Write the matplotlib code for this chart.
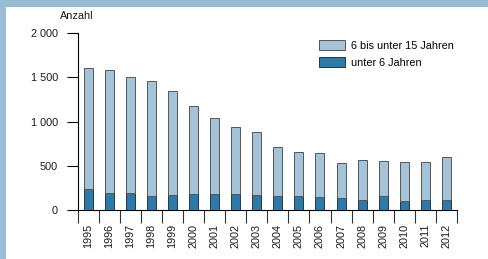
import matplotlib
matplotlib.use("Agg")
import matplotlib.pyplot as plt
from matplotlib.patches import Rectangle, Patch
import numpy as np

years = [str(y) for y in range(1995, 2013)]
under6 = [241, 192, 192, 158, 166, 181, 181, 177, 170, 158, 158, 143, 132, 117, 155, 105, 113, 110]
total = [1605, 1582, 1506, 1458, 1348, 1178, 1043, 934, 885, 715, 655, 640, 527, 565, 550, 542, 539, 599]
age6to15 = [t - u for t, u in zip(total, under6)]
yticks = [0, 500, 1000, 1500, 2000]
ytick_labels = ["0", "500", "1 000", "1 500", "2 000"]
labels = ["6 bis unter 15 Jahren", "unter 6 Jahren"]

plt.rcParams['font.family'] = ['Liberation Sans', 'DejaVu Sans']
FS = 7.8
light = '#a4c3d9'
dark = '#2b7aab'
W, H = 488, 259

fig = plt.figure(figsize=(W / 100, H / 100), dpi=100)
fig.patch.set_facecolor('white')
fig.patches.append(Rectangle((0, 1 - 7 / H), 1, 7 / H, transform=fig.transFigure,
                             facecolor='#99bcd4', edgecolor='none', zorder=0))
fig.patches.append(Rectangle((0, 0), 6 / W, 1, transform=fig.transFigure,
                             facecolor='#99bcd4', edgecolor='none', zorder=0))

ax = fig.add_axes([77.5 / W, (H - 210) / H, (457 - 77.5) / W, (210 - 33) / H])
x = np.arange(len(years))
bw = 0.43
ax.bar(x, under6, width=bw, color=dark, edgecolor='#333333', linewidth=0.7, zorder=3)
ax.bar(x, age6to15, bottom=under6, width=bw, color=light, edgecolor='#555555', linewidth=0.7, zorder=3)

ax.set_xlim(-0.5, len(years) - 0.5)
ax.set_ylim(0, 2000)
for s in ['top', 'right']:
    ax.spines[s].set_visible(False)
for s in ['left', 'bottom']:
    ax.spines[s].set_linewidth(0.8)
    ax.spines[s].set_color('black')

ax.set_yticks(yticks)
ax.set_yticklabels(ytick_labels, fontsize=FS, color='#1a1a1a')
ax.tick_params(axis='y', length=8, width=0.8, pad=6, colors='black', labelcolor='#1a1a1a')

ax.set_xticks(x)
ax.set_xticklabels(years, rotation=90, fontsize=FS, color='#1a1a1a', va='top')
ax.tick_params(axis='x', which='major', length=0, pad=10)
ax.set_xticks(np.arange(len(years) + 1) - 0.5, minor=True)
ax.tick_params(axis='x', which='minor', length=9.5, width=0.8, color='#333333')

fig.text(60 / W, 1 - 16 / H, "Anzahl", fontsize=FS, ha='left', va='center', color='#1a1a1a')

handles = [Patch(facecolor=light, edgecolor='#555555', linewidth=0.7),
           Patch(facecolor=dark, edgecolor='#333333', linewidth=0.7)]
fig.legend(handles, labels, loc='upper left', bbox_to_anchor=(319 / W, 1 - 40 / H),
           frameon=False, fontsize=FS, borderpad=0, borderaxespad=0,
           handlelength=2.4, handleheight=1.07, handletextpad=0.55, labelspacing=0.55)

fig.savefig('out.png', dpi=100, facecolor='white')
